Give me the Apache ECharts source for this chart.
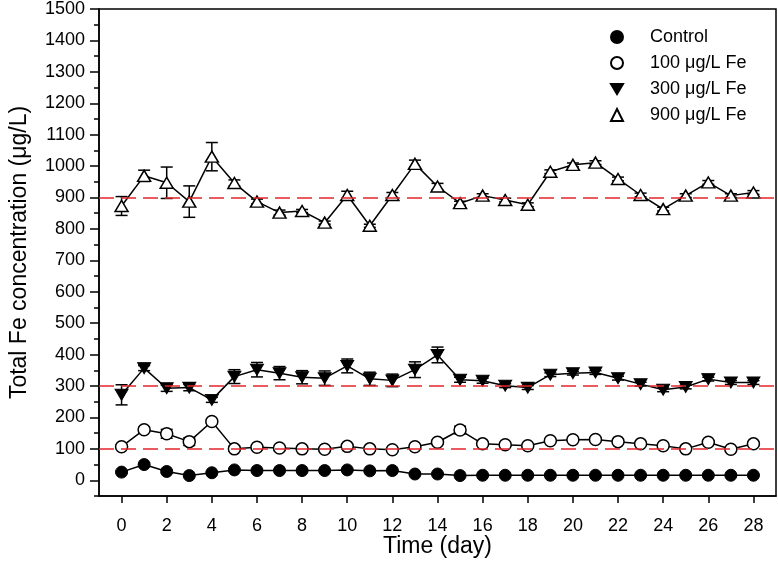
<!DOCTYPE html>
<html>
<head>
<meta charset="utf-8">
<script src="https://cdn.jsdelivr.net/npm/echarts@6/dist/echarts.min.js"></script>
<style>html,body{margin:0;padding:0;background:#fff}#c{width:778px;height:578px}</style>
</head>
<body>
<div id="c"></div>
<script>
var days = [0,1,2,3,4,5,6,7,8,9,10,11,12,13,14,15,16,17,18,19,20,21,22,23,24,25,26,27,28];
var control = [26,50,28,15,24,33,31,31,31,31,33,30,31,20,20,15,16,16,16,16,16,16,16,16,16,16,16,16,16];
var controlErr = [4,6,4,3,3,4,3,3,3,3,3,3,3,3,3,2,2,2,2,2,2,2,2,2,2,2,2,2,2];
var fe100 = [107,161,148,123,187,100,105,103,100,99,108,100,97,107,121,160,116,113,110,126,129,130,123,116,110,100,121,99,116];
var fe100Err = [6,8,14,12,6,8,6,6,5,5,6,5,5,5,6,12,5,5,5,5,5,5,5,5,5,5,5,5,6];
var fe300 = [272,357,293,295,256,330,352,341,328,325,364,323,318,352,399,320,317,301,295,336,341,343,325,306,288,297,322,311,311];
var fe300Err = [32,8,10,10,8,22,23,21,21,23,22,21,20,25,25,8,8,6,6,6,6,6,6,6,6,6,6,6,6];
var fe900 = [873,969,947,887,1030,946,887,852,857,820,908,810,908,1007,935,882,906,892,877,982,1004,1011,959,908,863,906,948,906,916];
var fe900Err = [30,18,50,50,45,10,8,8,5,5,12,5,8,12,10,6,6,6,6,6,6,6,6,6,6,6,6,6,6];
var targetLines = [100,300,900];
var xTicks = [0,2,4,6,8,10,12,14,16,18,20,22,24,26,28];
var yTicks = [0,100,200,300,400,500,600,700,800,900,1000,1100,1200,1300,1400,1500];
var names = ['Control','100 \u03bcg/L Fe','300 \u03bcg/L Fe','900 \u03bcg/L Fe'];

var FONT = 'Liberation Sans, Arial, sans-serif';
function pairs(v){ return days.map(function(d,i){ return [d, v[i]]; }); }
function triples(v,e){ return days.map(function(d,i){ return [d, v[i], e[i]]; }); }
function errSeries(v,e){
  return {
    type:'custom', yAxisIndex:0, z:1, silent:true,
    data: triples(v,e),
    renderItem: function(params, api){
      var x = api.value(0), y = api.value(1), er = api.value(2);
      var t = api.coord([x, y+er]), b = api.coord([x, y-er]);
      var w = 6, st = {stroke:'#000', lineWidth:1.5};
      return {type:'group', children:[
        {type:'line', shape:{x1:t[0],y1:t[1],x2:b[0],y2:b[1]}, style:st},
        {type:'line', shape:{x1:t[0]-w,y1:t[1],x2:t[0]+w,y2:t[1]}, style:st},
        {type:'line', shape:{x1:b[0]-w,y1:b[1],x2:b[0]+w,y2:b[1]}, style:st}
      ]};
    }
  };
}
var base = {type:'line', yAxisIndex:0, z:3, lineStyle:{color:'#000', width:1.5}, showSymbol:true};
var downTri = 'path://M0,0L12,0L6,10Z';
function plain(v){ return String(v); }

var chart = echarts.init(document.getElementById('c'));
chart.setOption({
  animation:false,
  textStyle:{fontFamily:FONT},
  grid:{left:97, right:2, top:9, bottom:82, show:true, borderColor:'#000', borderWidth:1.5, backgroundColor:'transparent'},
  legend:{
    orient:'vertical', left:605, top:23, itemGap:8, itemWidth:12, itemHeight:12,
    textStyle:{fontFamily:FONT, fontSize:18, color:'#000', lineHeight:18, padding:[0,0,0,22]},
    data:[
      {name:names[0], icon:'circle'},
      {name:names[1], icon:'circle'},
      {name:names[2], icon:downTri},
      {name:names[3], icon:'triangle'}
    ]
  },
  xAxis:{
    type:'value', min:-1, max:29,
    name:'Time (day)', nameLocation:'middle', nameGap:39, nameMoveOverlap:false,
    nameTextStyle:{fontFamily:FONT, fontSize:23, color:'#000'},
    axisLine:{show:true, onZero:false, lineStyle:{color:'#000', width:1.5}},
    axisTick:{show:true, length:7, customValues:xTicks, lineStyle:{color:'#000', width:1.5}},
    axisLabel:{customValues:xTicks, formatter:plain, fontFamily:FONT, fontSize:18, color:'#000', margin:21},
    splitLine:{show:false}
  },
  yAxis:[
    {
      type:'value', min:-50, max:1500, interval:50,
      axisLine:{show:true, onZero:false, lineStyle:{color:'#000', width:1.5}},
      axisTick:{show:true, length:5, lineStyle:{color:'#000', width:1.5}},
      axisLabel:{show:false},
      splitLine:{show:false}
    },
    {
      type:'value', min:-50, max:1500, position:'left', alignTicks:false,
      name:'Total Fe concentration (\u03bcg/L)', nameLocation:'middle', nameGap:68, nameMoveOverlap:false,
      nameTextStyle:{fontFamily:FONT, fontSize:23, color:'#000'},
      axisLine:{show:false, onZero:false},
      axisTick:{show:true, length:9, customValues:yTicks, lineStyle:{color:'#000', width:1.5}},
      axisLabel:{customValues:yTicks, formatter:plain, fontFamily:FONT, fontSize:18, color:'#000', margin:14},
      splitLine:{show:false}
    }
  ],
  series:[
    errSeries(control, controlErr),
    errSeries(fe100, fe100Err),
    errSeries(fe300, fe300Err),
    errSeries(fe900, fe900Err),
    Object.assign({}, base, {
      name:names[0], data:pairs(control), symbol:'circle', symbolSize:12,
      itemStyle:{color:'#000', borderColor:'#000', borderWidth:1},
      markLine:{
        silent:true, symbol:'none', label:{show:false},
        lineStyle:{color:'#e3262d', width:1.5, type:[15,7]},
        data: targetLines.map(function(v){ return {yAxis:v}; })
      }
    }),
    Object.assign({}, base, {
      name:names[1], data:pairs(fe100), symbol:'circle', symbolSize:12,
      itemStyle:{color:'#fff', borderColor:'#000', borderWidth:1.5}
    }),
    Object.assign({}, base, {
      name:names[2], data:pairs(fe300), symbol:downTri, symbolSize:[13,11],
      itemStyle:{color:'#000', borderColor:'#000', borderWidth:1}
    }),
    Object.assign({}, base, {
      name:names[3], data:pairs(fe900), symbol:'triangle', symbolSize:[13,11],
      itemStyle:{color:'#fff', borderColor:'#000', borderWidth:1.5}
    })
  ]
});
</script>
</body>
</html>
